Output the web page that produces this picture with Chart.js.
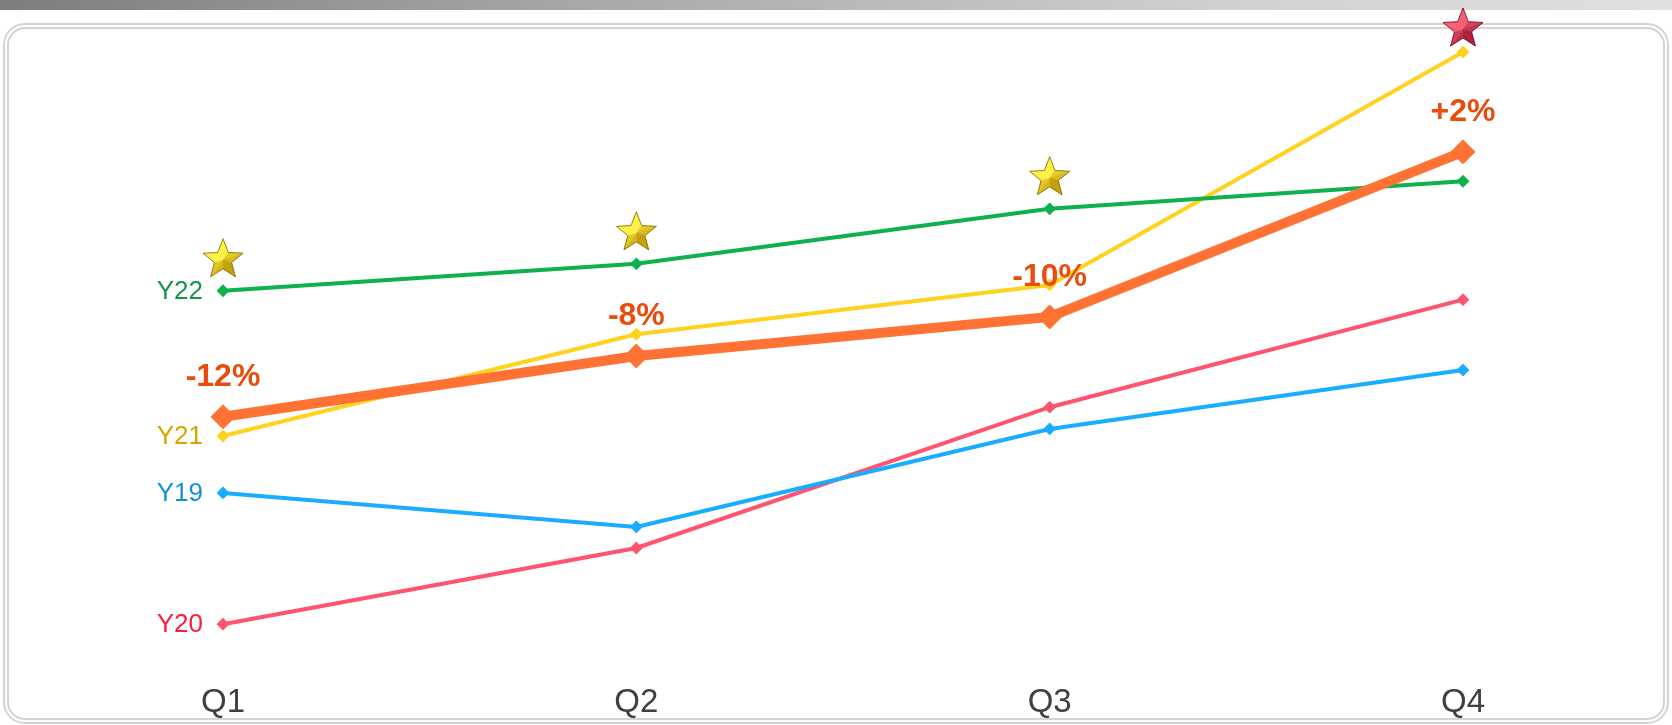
<!DOCTYPE html>
<html>
<head>
<meta charset="utf-8">
<script src="https://cdn.jsdelivr.net/npm/chart.js@4.4.1/dist/chart.umd.min.js"></script>
<style>
    html, body { margin: 0; padding: 0; background: #fff; }
    #wrap { position: relative; width: 1672px; height: 725px; overflow: hidden; }
    .top-bar { position: absolute; left: 0; top: 0; width: 100%; height: 10px;
        background: linear-gradient(to right, #7d7d7d 0%, #a8a8a8 35%, #d2d2d2 75%, #e0e0e0 100%); }
    .frame { position: absolute; left: 3px; top: 23px; right: 3px; bottom: 1px;
        border: 6px double #d4d4d4; border-radius: 22px; }
    #chart { position: absolute; left: 0; top: 0; }
</style>
</head>
<body>
<div id="wrap">
    <div class="top-bar"></div>
    <div class="frame"></div>
    <canvas id="chart" width="1672" height="725"></canvas>
</div>
<script>
// 데이터
const quarters = ['Q1', 'Q2', 'Q3', 'Q4'];
const y19 = [26.1, 20.8, 36.1, 45.3];
const y20 = [5.6, 17.5, 39.5, 56.3];
const y21 = [35.0, 50.9, 58.6, 95.0];
const y22 = [57.7, 61.9, 70.5, 74.8];
const trend = [38.0, 47.5, 53.6, 79.4];
const trendLabels = ['-12%', '-8%', '-10%', '+2%'];

// 시리즈 설정
const yearSeries = [
    { name: 'Y22', data: y22, line: '#0fb04d', text: '#17954a' },
    { name: 'Y21', data: y21, line: '#ffd21f', text: '#d7a500' },
    { name: 'Y19', data: y19, line: '#19acff', text: '#1590d8' },
    { name: 'Y20', data: y20, line: '#ff5470', text: '#ff1c3c' }
];

// 입체 별 그리기
function drawStar(ctx, cx, cy, R, r, light, dark, edge) {
    const pts = [];
    for (let i = 0; i < 10; i++) {
        const a = -Math.PI / 2 + i * Math.PI / 5;
        const d = i % 2 === 0 ? R : r;
        pts.push([cx + Math.cos(a) * d, cy + Math.sin(a) * d]);
    }
    for (let i = 0; i < 10; i++) {
        const p1 = pts[i], p2 = pts[(i + 1) % 10];
        const mx = (p1[0] + p2[0]) / 2 - cx, my = (p1[1] + p2[1]) / 2 - cy;
        const k = Math.min(1, ((-mx * 0.55 - my * 0.85) / Math.hypot(mx, my) + 1) / 2 + 0.15);
        const c = light.map((v, j) => Math.round(dark[j] + (v - dark[j]) * k));
        ctx.beginPath();
        ctx.moveTo(cx, cy);
        ctx.lineTo(p1[0], p1[1]);
        ctx.lineTo(p2[0], p2[1]);
        ctx.closePath();
        ctx.fillStyle = `rgb(${c.join(',')})`;
        ctx.fill();
        ctx.strokeStyle = `rgb(${c.join(',')})`;
        ctx.lineWidth = 0.5;
        ctx.stroke();
    }
    ctx.beginPath();
    pts.forEach((p, i) => i ? ctx.lineTo(p[0], p[1]) : ctx.moveTo(p[0], p[1]));
    ctx.closePath();
    ctx.strokeStyle = edge;
    ctx.lineWidth = 1;
    ctx.stroke();
}

// 라벨/별 플러그인
const annotatePlugin = {
    id: 'annotate',
    afterDatasetsDraw(chart) {
        const ctx = chart.ctx;
        const area = chart.chartArea;
        ctx.save();

        // 분기별 최고값 위 별
        const globalMax = Math.max(...yearSeries.flatMap(s => s.data));
        quarters.forEach((q, i) => {
            let best = 0;
            yearSeries.forEach((s, k) => { if (s.data[i] > yearSeries[best].data[i]) best = k; });
            const pt = chart.getDatasetMeta(best + 1).data[i];
            const cy = Math.max(pt.y - 31, area.top + 9);
            if (yearSeries[best].data[i] === globalMax) {
                drawStar(ctx, pt.x, cy, 21, 9, [245, 95, 120], [160, 20, 50], 'rgba(120,10,35,0.8)');
            } else {
                drawStar(ctx, pt.x, cy, 21, 9, [255, 240, 70], [185, 145, 0], 'rgba(130,105,0,0.8)');
            }
        });

        // 증감률 라벨
        const trendMeta = chart.getDatasetMeta(0);
        ctx.font = 'bold 32px "Liberation Sans", Arial, sans-serif';
        ctx.fillStyle = '#e84d0e';
        ctx.textAlign = 'center';
        ctx.textBaseline = 'middle';
        trendMeta.data.forEach((pt, i) => ctx.fillText(trendLabels[i], pt.x, pt.y - 40));

        // 연도 라벨
        ctx.font = '26px "Liberation Sans", Arial, sans-serif';
        ctx.textAlign = 'right';
        yearSeries.forEach((s, k) => {
            const pt = chart.getDatasetMeta(k + 1).data[0];
            ctx.fillStyle = s.text;
            ctx.fillText(s.name, pt.x - 20, pt.y + 1);
        });
        ctx.restore();
    }
};

const datasets = [
    {
        label: 'trend',
        data: trend,
        borderColor: '#ff7234',
        backgroundColor: '#ff7234',
        borderWidth: 10,
        pointStyle: 'rectRot',
        pointRadius: 12,
        pointBorderWidth: 1
    },
    ...yearSeries.map(s => ({
        label: s.name,
        data: s.data,
        borderColor: s.line,
        backgroundColor: s.line,
        borderWidth: 4,
        pointStyle: 'rectRot',
        pointRadius: 5,
        pointBorderWidth: 2
    }))
];

new Chart(document.getElementById('chart'), {
    type: 'line',
    data: { labels: quarters, datasets: datasets },
    plugins: [annotatePlugin],
    options: {
        responsive: false,
        animation: false,
        layout: { padding: { left: 223, right: 209, top: 20, bottom: 7 } },
        plugins: { legend: { display: false }, tooltip: { enabled: false } },
        scales: {
            x: {
                offset: false,
                grid: { display: false, drawTicks: false },
                border: { display: false },
                ticks: { padding: 23, color: '#404040', font: { size: 33, family: '"Liberation Sans", Arial, sans-serif' } },
                afterFit: (scale) => { scale.height = 58; }
            },
            y: { display: false, min: 0, max: 100 }
        }
    }
});
</script>
</body>
</html>
